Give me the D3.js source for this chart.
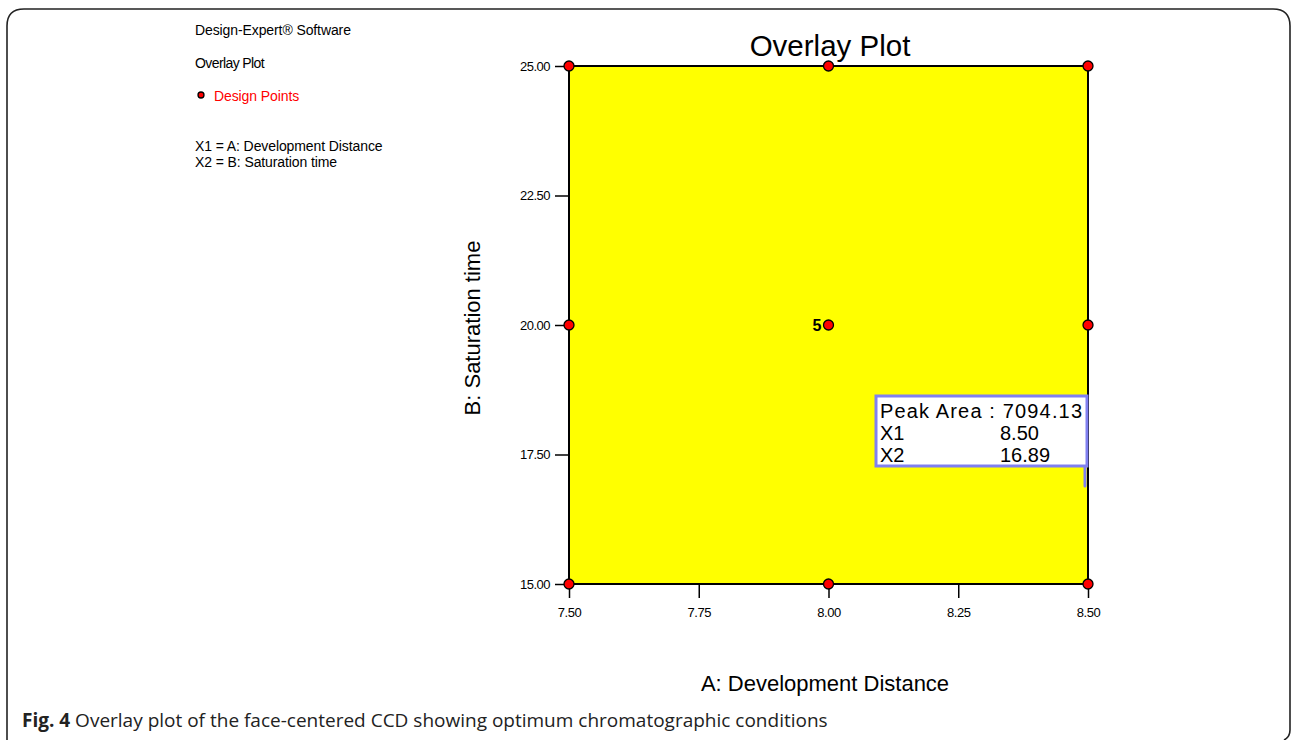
<!DOCTYPE html>
<html>
<head>
<meta charset="utf-8">
<script src="https://cdn.jsdelivr.net/npm/d3@7"></script>
<style>
  html, body { margin: 0; padding: 0; background: #fff; }
  svg { display: block; }
</style>
</head>
<body>
<svg id="chart" width="1292" height="740"></svg>
<script>
// Design space of the face-centered CCD
const xDomain = [7.5, 8.5];
const yDomain = [15, 25];
const xTicks = [7.50, 7.75, 8.00, 8.25, 8.50];
const yTicks = [15.00, 17.50, 20.00, 22.50, 25.00];

// Design points (A, B) and replicate counts
const designA = [7.5, 8.0, 8.5, 7.5, 8.0, 8.5, 7.5, 8.0, 8.5];
const designB = [15, 15, 15, 20, 20, 20, 25, 25, 25];
const designReps = [1, 1, 1, 1, 5, 1, 1, 1, 1];

// Flagged optimum
const flagLabels = ["Peak Area : 7094.13", "X1", "X2"];
const flagValues = ["", "8.50", "16.89"];
const flagX1 = 8.50;
const flagX2 = 16.89;

const infoLines = ["X1 = A: Development Distance", "X2 = B: Saturation time"];

const svg = d3.select("#chart");
const arial = "Liberation Sans, Arial, sans-serif";

// Outer rounded frame
svg.append("path")
  .attr("d", "M7,760 L7,26 Q7,9 24,9 L1273,9 Q1290,9 1290,26 L1290,730 Q1290,737 1284,740")
  .attr("fill", "none").attr("stroke", "#222").attr("stroke-width", 1.6);

const x = d3.scaleLinear().domain(xDomain).range([569, 1088]);
const y = d3.scaleLinear().domain(yDomain).range([584, 66]);

// Feasible region
svg.append("rect")
  .attr("x", x(xDomain[0])).attr("y", y(yDomain[1]))
  .attr("width", x(xDomain[1]) - x(xDomain[0]))
  .attr("height", y(yDomain[0]) - y(yDomain[1]))
  .attr("fill", "#ffff00");

// Axes
const xAxis = d3.axisBottom(x).tickValues(xTicks).tickFormat(d3.format(".2f"))
  .tickSizeOuter(0).tickSizeInner(14).tickPadding(7);
const yAxis = d3.axisLeft(y).tickValues(yTicks).tickFormat(d3.format(".2f"))
  .tickSizeOuter(0).tickSizeInner(14).tickPadding(5);

const gx = svg.append("g").attr("transform", `translate(0,${y(yDomain[0])})`).call(xAxis);
const gy = svg.append("g").attr("transform", `translate(${x(xDomain[0])},0)`).call(yAxis);
[gx, gy].forEach(g => {
  g.select(".domain").remove();
  g.selectAll("line").attr("stroke", "#000").attr("stroke-width", 1.5);
  g.selectAll("text").attr("font-family", arial).attr("font-size", 13)
    .attr("letter-spacing", -0.5).attr("fill", "#000");
});
gx.selectAll("text").attr("dy", "0.95em");

// Plot border
svg.append("rect")
  .attr("x", x(xDomain[0])).attr("y", y(yDomain[1]))
  .attr("width", x(xDomain[1]) - x(xDomain[0]))
  .attr("height", y(yDomain[0]) - y(yDomain[1]))
  .attr("fill", "none").attr("stroke", "#000").attr("stroke-width", 2);

// Flag pointer and box
const fx = x(flagX1) - 3;
const boxL = 876, boxT = 396, boxR = 1087, boxB = 466;
svg.append("line")
  .attr("x1", fx).attr("x2", fx).attr("y1", boxB).attr("y2", y(flagX2))
  .attr("stroke", "#8080f0").attr("stroke-width", 3).attr("stroke-linecap", "round");
svg.append("rect")
  .attr("x", boxL).attr("y", boxT).attr("width", boxR - boxL).attr("height", boxB - boxT)
  .attr("fill", "#fff").attr("stroke", "#8080f0").attr("stroke-width", 3);
const ft = svg.append("g").attr("font-family", arial).attr("font-size", 20).attr("fill", "#000");
flagLabels.forEach((t, i) => {
  const el = ft.append("text").attr("x", 880).attr("y", 418 + i * 22).text(t);
  if (i === 0) el.attr("textLength", 202).attr("lengthAdjust", "spacing");
});
flagValues.forEach((t, i) => {
  if (t) ft.append("text").attr("x", 1000).attr("y", 418 + i * 22).text(t);
});

// Design points
const pts = designA.map((a, i) => ({ a, b: designB[i], n: designReps[i] }));
svg.append("g").selectAll("circle").data(pts).join("circle")
  .attr("cx", d => x(d.a)).attr("cy", d => y(d.b)).attr("r", 5)
  .attr("fill", "#ff0000").attr("stroke", "#000").attr("stroke-width", 1.3);
svg.append("g").selectAll("text").data(pts.filter(d => d.n > 1)).join("text")
  .attr("x", d => x(d.a) - 7).attr("y", d => y(d.b) + 6)
  .attr("text-anchor", "end").attr("font-family", arial).attr("font-size", 16)
  .attr("font-weight", "bold").text(d => d.n);

// Titles
svg.append("text").attr("x", 830).attr("y", 56).attr("text-anchor", "middle")
  .attr("font-family", arial).attr("font-size", 29.5).text("Overlay Plot");
svg.append("text").attr("x", 825).attr("y", 691).attr("text-anchor", "middle")
  .attr("font-family", arial).attr("font-size", 22).text("A: Development Distance");
svg.append("text").attr("transform", "translate(480,328) rotate(-90)").attr("text-anchor", "middle")
  .attr("font-family", arial).attr("font-size", 22).text("B: Saturation time");

// Info panel
const info = svg.append("g").attr("font-family", arial).attr("font-size", 14).attr("fill", "#000")
  .attr("letter-spacing", -0.1);
info.append("text").attr("x", 195).attr("y", 35).text("Design-Expert® Software");
info.append("text").attr("x", 195).attr("y", 68).attr("letter-spacing", -0.6).text("Overlay Plot");
info.append("circle").attr("cx", 201).attr("cy", 95).attr("r", 3)
  .attr("fill", "#ff0000").attr("stroke", "#000").attr("stroke-width", 1.3);
info.append("text").attr("x", 214).attr("y", 101).attr("fill", "#ff0000").text("Design Points");
infoLines.forEach((t, i) => {
  info.append("text").attr("x", 195).attr("y", 151 + i * 16).text(t);
});

// Caption
const cap = svg.append("text").attr("x", 22).attr("y", 727)
  .attr("font-family", "Open Sans, sans-serif").attr("font-size", 19).attr("fill", "#222");
cap.append("tspan").attr("font-weight", "bold").text("Fig. 4");
cap.append("tspan").text(" Overlay plot of the face-centered CCD showing optimum chromatographic conditions");
</script>
</body>
</html>
